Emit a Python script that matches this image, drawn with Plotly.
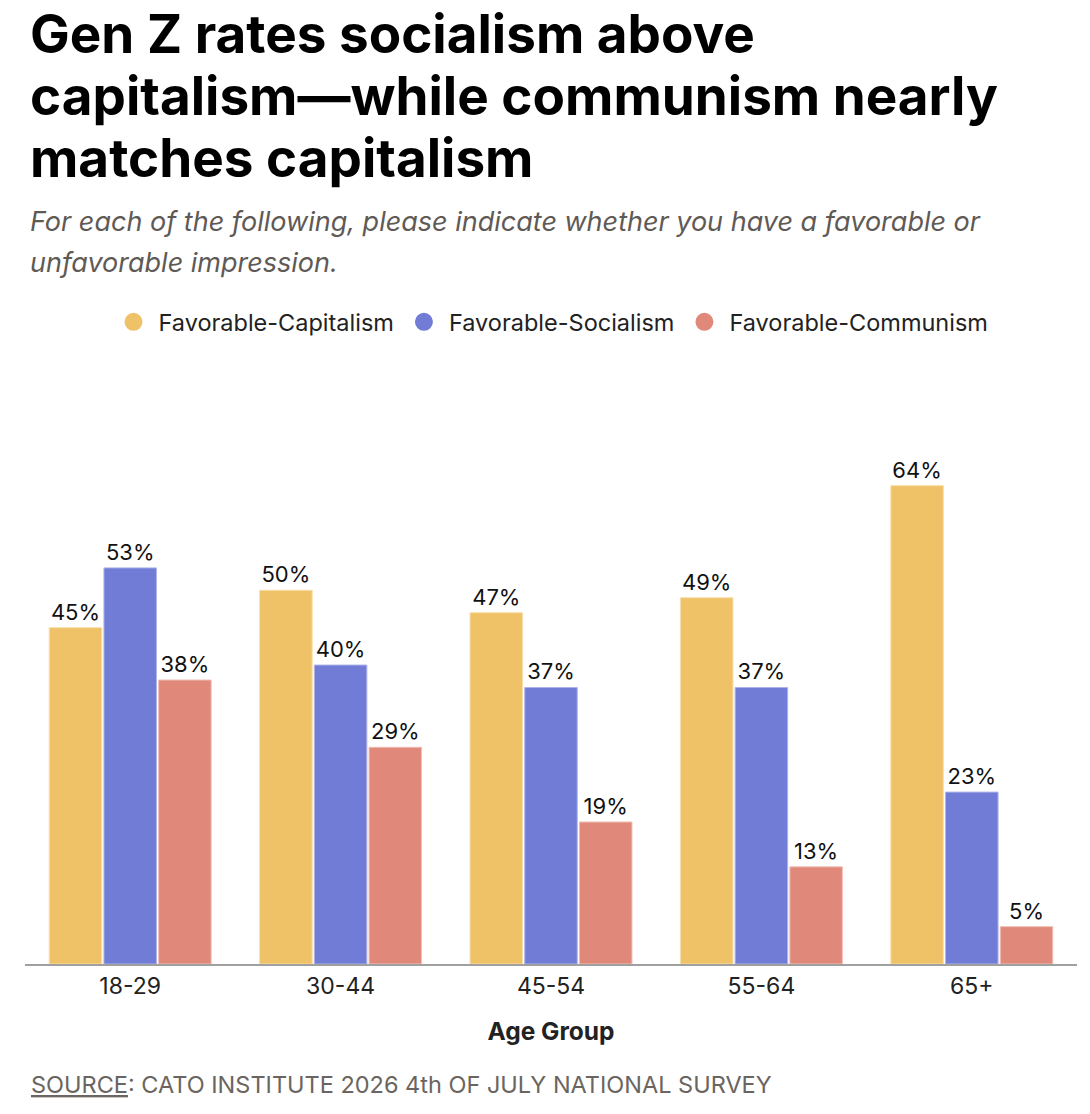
import plotly.graph_objects as go

age_groups = ["18-29", "30-44", "45-54", "55-64", "65+"]
capitalism = [45, 50, 47, 49, 64]
socialism = [53, 40, 37, 37, 23]
communism = [38, 29, 19, 13, 5]

series_names = ["Favorable-Capitalism", "Favorable-Socialism", "Favorable-Communism"]
colors = ["#EFC268", "#717CD6", "#E0897B"]
line_colors = ["#F7DDA8", "#AEB4E8", "#F0BFB6"]

W, H = 1090, 1114
ML, MR, MT, MB = 25, 13, 390, 150
PH = H - MT - MB


def py(pix):
    return (H - MB - pix) / PH


def px(pix):
    return (pix - ML) / (W - ML - MR)


fig = go.Figure()
for name, vals, c, lc in zip(series_names, [capitalism, socialism, communism], colors, line_colors):
    fig.add_trace(go.Bar(
        x=age_groups, y=vals, name=name, showlegend=False,
        marker=dict(color=c, line=dict(color=lc, width=1)),
        texttemplate="%{y}%", textposition="outside",
        textfont=dict(size=22, color="#111", family="Inter"),
        cliponaxis=False,
    ))
for name, c in zip(series_names, colors):
    fig.add_trace(go.Scatter(
        x=[None], y=[None], mode="markers", name=name,
        marker=dict(color=c, size=22, symbol="circle", line=dict(color=c, width=2)),
    ))

title_lines = ["Gen Z rates socialism above",
               "capitalism\u2014while communism nearly",
               "matches capitalism"]
annotations = []
for i, t in enumerate(title_lines):
    annotations.append(dict(
        text=f"<b>{t}</b>", x=px(28), y=py(34 + 62 * i), xref="paper", yref="paper",
        xanchor="left", yanchor="middle", showarrow=False,
        font=dict(size=53, color="#000", family="Inter")))
sub_lines = ["For each of the following, please indicate whether you have a favorable or",
             "unfavorable impression."]
for i, t in enumerate(sub_lines):
    annotations.append(dict(
        text=f"<i>{t}</i>", x=px(28), y=py(221 + 41 * i), xref="paper", yref="paper",
        xanchor="left", yanchor="middle", showarrow=False,
        font=dict(size=27, color="#5f5a55", family="Inter")))
annotations.append(dict(
    text="<u>SOURCE</u>: CATO INSTITUTE 2026 4th OF JULY NATIONAL SURVEY",
    x=px(29), y=py(1084), xref="paper", yref="paper",
    xanchor="left", yanchor="middle", showarrow=False,
    font=dict(size=23.5, color="#6a6560", family="Inter")))

fig.update_layout(
    width=W, height=H,
    margin=dict(l=ML, r=MR, t=MT, b=MB),
    paper_bgcolor="white", plot_bgcolor="white",
    barmode="group", bargap=0.22, bargroupgap=0.04,
    font=dict(family="Inter", color="#222"),
    legend=dict(orientation="h", x=0.5, xanchor="center", y=py(322), yanchor="middle",
                font=dict(size=23.5, color="#222", family="Inter"), itemsizing="trace",
                itemwidth=40, tracegroupgap=0),
    annotations=annotations,
    xaxis=dict(showline=True, linecolor="#a0a0a0", linewidth=2, ticks="",
               tickfont=dict(size=23, color="#222", family="Inter"),
               title=dict(text="<b>Age Group</b>", font=dict(size=24.5, color="#222", family="Inter"), standoff=24),
               showgrid=False, zeroline=False),
    yaxis=dict(visible=False, range=[0, 76.8], showgrid=False, zeroline=False),
)

fig.write_html("out.html")
